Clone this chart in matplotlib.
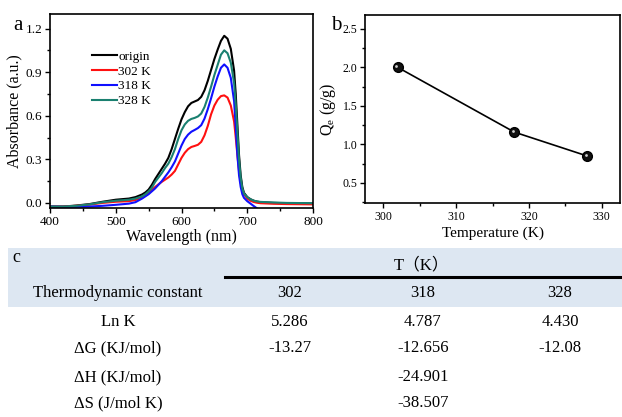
import matplotlib
matplotlib.use("Agg")
import matplotlib.pyplot as plt
import matplotlib.transforms as mtransforms
from matplotlib.patches import Rectangle
from matplotlib.lines import Line2D
from matplotlib.ticker import MultipleLocator, FormatStrFormatter

plt.rcParams['font.family'] = ['Liberation Serif', 'Noto Sans CJK SC']
plt.rcParams['mathtext.fontset'] = 'custom'
plt.rcParams['mathtext.rm'] = 'Liberation Serif'
plt.rcParams['mathtext.it'] = 'Liberation Serif'

# === DATA: panel a (UV-vis spectra) ===
wavelength = [400, 420, 440, 460, 480, 500, 520, 530,
              540, 545, 550, 555, 560, 565, 570, 575, 580, 585, 590, 595, 600,
              605, 610, 615, 620, 625, 630, 635, 640, 645, 650, 655, 660, 665,
              670, 675, 680, 682.5, 685, 687.5, 690, 692.5, 695,
              700, 705, 710, 715, 720, 740, 760, 780, 800]
abs_origin = [-0.025, -0.025, -0.018, -0.008, 0.008, 0.022, 0.030, 0.040,
              0.058, 0.072, 0.092, 0.125, 0.165, 0.200, 0.235, 0.270, 0.310, 0.370, 0.440, 0.510, 0.575,
              0.625, 0.665, 0.688, 0.698, 0.708, 0.730, 0.775, 0.840, 0.915, 0.990, 1.055, 1.115, 1.150,
              1.130, 1.060, 0.910, 0.750, 0.540, 0.330, 0.190, 0.110, 0.070,
              0.040, 0.025, 0.015, 0.009, 0.005, 0.000, -0.002, -0.003, -0.004]
abs_302 = [-0.025, -0.025, -0.020, -0.012, 0.000, 0.008, 0.012, 0.020,
           0.035, 0.050, 0.068, 0.090, 0.110, 0.128, 0.145, 0.160, 0.175, 0.195, 0.220, 0.265, 0.310,
           0.345, 0.370, 0.385, 0.392, 0.400, 0.420, 0.465, 0.530, 0.610, 0.670, 0.710, 0.735, 0.740,
           0.725, 0.670, 0.560, 0.450, 0.330, 0.220, 0.140, 0.090, 0.060,
           0.030, 0.015, 0.006, 0.001, -0.002, -0.006, -0.008, -0.009, -0.010]
abs_318 = [-0.025, -0.027, -0.027, -0.025, -0.020, -0.013, -0.005, 0.005,
           0.030, 0.045, 0.060, 0.080, 0.100, 0.125, 0.150, 0.180, 0.210, 0.245, 0.285, 0.340, 0.395,
           0.440, 0.470, 0.490, 0.502, 0.515, 0.535, 0.580, 0.645, 0.720, 0.800, 0.870, 0.930, 0.953,
           0.930, 0.860, 0.700, 0.520, 0.330, 0.190, 0.110, 0.060, 0.035,
           0.012, -0.005, -0.022, -0.038, -0.050, -0.060, -0.060, -0.060, -0.060]
abs_328 = [-0.025, -0.025, -0.020, -0.010, 0.005, 0.015, 0.022, 0.030,
           0.045, 0.060, 0.080, 0.105, 0.145, 0.175, 0.205, 0.240, 0.270, 0.315, 0.370, 0.440, 0.500,
           0.540, 0.565, 0.578, 0.585, 0.595, 0.615, 0.660, 0.725, 0.800, 0.880, 0.950, 1.020, 1.050,
           1.030, 0.965, 0.825, 0.680, 0.490, 0.300, 0.175, 0.100, 0.065,
           0.040, 0.025, 0.015, 0.010, 0.007, 0.003, 0.000, -0.001, -0.002]
series_labels = ["origin", "302 K", "318 K", "328 K"]
series_colors = ["black", "#ff1010", "#1010ff", "#1a8070"]

# === DATA: panel b ===
temperature = [302, 318, 328]
qe = [2.00, 1.16, 0.85]

# === DATA: panel c (table) ===
col_temps = ["302", "318", "328"]
row_names = ["Ln K", "ΔG (KJ/mol)", "ΔH (KJ/mol)", "ΔS (J/mol K)"]
row_values = [["5.286", "4.787", "4.430"],
              ["-13.27", "-12.656", "-12.08"],
              ["", "-24.901", ""],
              ["", "-38.507", ""]]

W, H = 622, 417
fig = plt.figure(figsize=(W / 100, H / 100), dpi=100)


def fx(px):
    return px / W


def fy(py):
    return 1 - py / H


def style_ticks(ax, size):
    ax.tick_params(which='major', direction='out', length=3.5, width=1, labelsize=size, pad=2)
    ax.tick_params(which='minor', direction='out', length=2, width=1)
    for s in ax.spines.values():
        s.set_linewidth(1.2)


# --- panel a ---
ax1 = fig.add_axes([fx(50), fy(208), fx(263), 194 / H])
for ys, lab, c in zip([abs_origin, abs_302, abs_318, abs_328], series_labels, series_colors):
    ax1.plot(wavelength, ys, color=c, lw=1.5, label=lab)
ax1.set_xlim(400, 800)
ax1.set_ylim(-0.035, 1.30)
ax1.xaxis.set_major_locator(MultipleLocator(100))
ax1.xaxis.set_minor_locator(MultipleLocator(50))
ax1.yaxis.set_major_locator(MultipleLocator(0.3))
ax1.yaxis.set_minor_locator(MultipleLocator(0.15))
ax1.yaxis.set_major_formatter(FormatStrFormatter('%.1f'))
style_ticks(ax1, 9.5)
ax1.set_xlabel("Wavelength (nm)", fontsize=11.5, labelpad=1)
ax1.set_ylabel("Absorbance (a.u.)", fontsize=11.5, labelpad=2)
ax1.legend(loc='upper left', bbox_to_anchor=(0.125, 0.86), frameon=False, fontsize=9.5,
           handlelength=1.9, handletextpad=0.1, labelspacing=0.2, borderpad=0.2)
fig.text(fx(13), fy(25), "a", fontsize=15, va='center', ha='left')

# --- panel b ---
ax2 = fig.add_axes([fx(365), fy(203), fx(255), 188 / H])
ax2.plot(temperature, qe, color='black', lw=1.2, marker='o', markersize=7,
         markerfacecolor='#111111', markeredgecolor='black')
glint = mtransforms.offset_copy(ax2.transData, fig=fig, x=-1.0, y=1.0, units='points')
ax2.plot(temperature, qe, ls='none', marker='o', markersize=2.0, transform=glint,
         markerfacecolor='#d0d0d0', markeredgecolor='none')
ax2.set_xlim(297.5, 332.5)
ax2.set_ylim(0.24, 2.68)
ax2.xaxis.set_major_locator(MultipleLocator(10))
ax2.xaxis.set_minor_locator(MultipleLocator(5))
ax2.yaxis.set_major_locator(MultipleLocator(0.5))
ax2.yaxis.set_minor_locator(MultipleLocator(0.25))
style_ticks(ax2, 8.5)
ax2.set_xlabel("Temperature (K)", fontsize=11, labelpad=3)
ax2.set_ylabel("Q$_\\mathregular{e}$ (g/g)", fontsize=11.5, labelpad=3)
fig.text(fx(336), fy(26), "b", fontsize=15, va='center', ha='center')

# --- panel c: table ---
fig.patches.append(Rectangle((fx(8), fy(307)), 1 - fx(8), (307 - 248) / H,
                             transform=fig.transFigure, facecolor='#dde7f2',
                             edgecolor='none', zorder=0))
fig.lines.append(Line2D([fx(225), 1], [fy(277), fy(277)], transform=fig.transFigure,
                        color='black', lw=2.2))
fig.text(fx(12), fy(257), "c", fontsize=13, va='center', ha='left')
fig.text(fx(422), fy(265), "T（K）", fontsize=12, va='center', ha='center')

col_x = [118, 290, 423, 560]
row_y = [322, 348, 377, 403]
fig.text(fx(col_x[0]), fy(293), "Thermodynamic constant", fontsize=12, va='center', ha='center')
for cx, t in zip(col_x[1:], col_temps):
    fig.text(fx(cx), fy(293), t, fontsize=12, va='center', ha='center')
for ry, name, vals in zip(row_y, row_names, row_values):
    fig.text(fx(col_x[0]), fy(ry), name, fontsize=12, va='center', ha='center')
    for cx, v in zip(col_x[1:], vals):
        if v:
            fig.text(fx(cx), fy(ry), v, fontsize=12, va='center', ha='center')

fig.savefig("out.png", dpi=100)
